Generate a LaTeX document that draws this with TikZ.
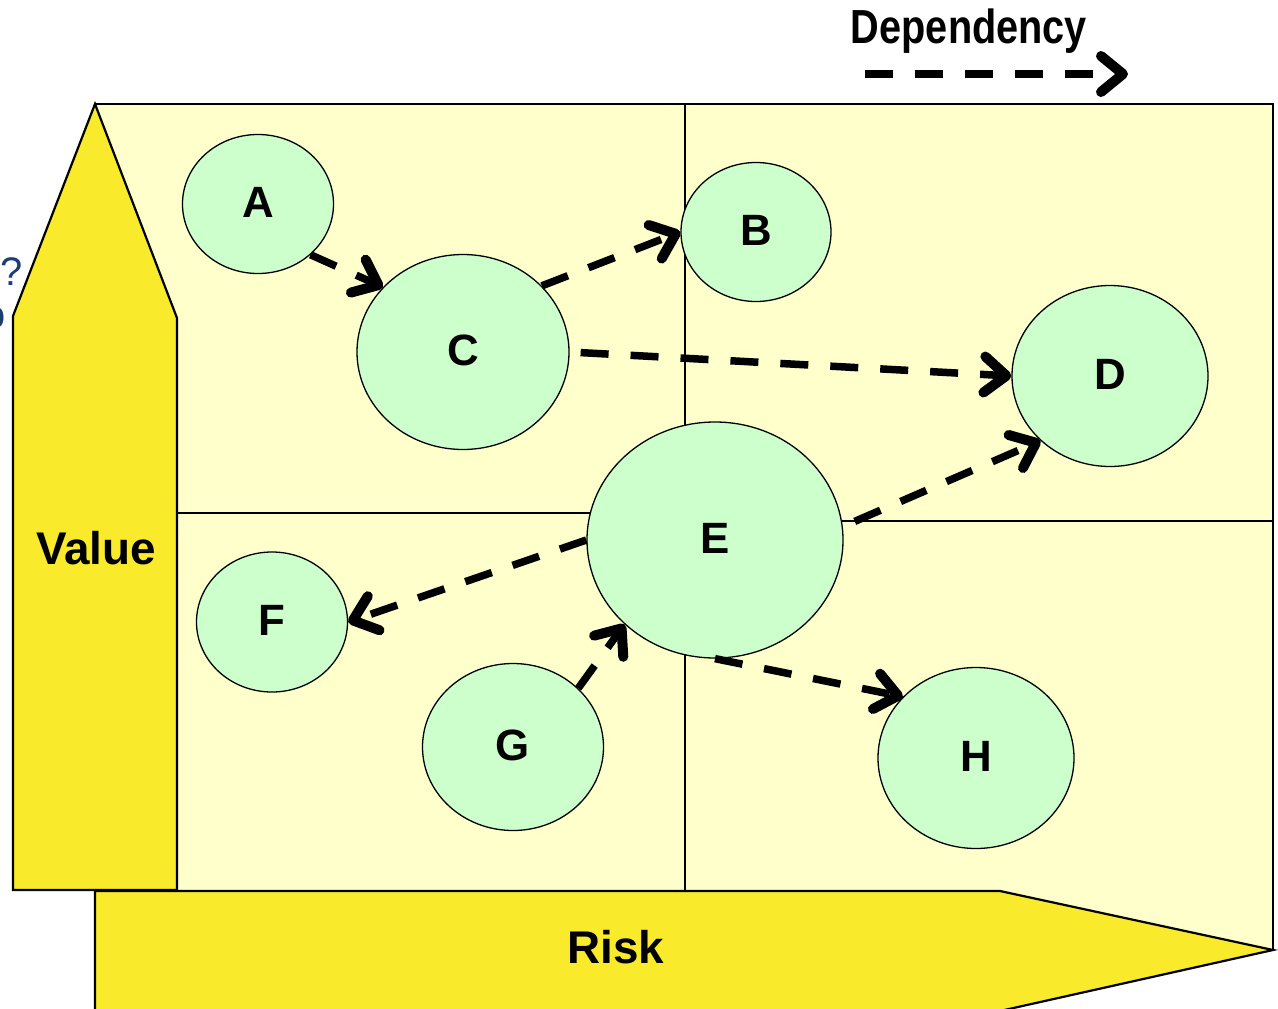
\documentclass[tikz,border=0pt]{standalone}
\usepackage{fontspec}
\setmainfont{Liberation Sans}
\usetikzlibrary{shapes.geometric,arrows.meta}
\definecolor{paleyellow}{HTML}{FFFFCC}
\definecolor{axisyellow}{HTML}{F9EB2B}
\definecolor{bubble}{HTML}{CCFFCC}
\definecolor{navy}{HTML}{1B3F73}
\tikzset{
  bubblenode/.style={ellipse, draw=black, line width=1.3bp, fill=bubble, inner sep=0pt,
    text height=32bp, text depth=5bp,
    font=\fontsize{44}{50}\selectfont\bfseries},
  axis/.style={fill=axisyellow, draw=black, line width=2.2bp, line join=miter},
  grid/.style={draw=black, line width=1.3bp},
  dep/.style={line width=7.5bp, dash pattern=on 28bp off 22bp,
    -{Straight Barb[length=22bp,width=36bp,line width=10bp,round]}},
  axislabel/.style={font=\fontsize{46}{52}\selectfont\bfseries, inner sep=0pt}
}
\begin{document}
\begin{tikzpicture}[x=1bp,y=-1bp]
  \clip (0,0) rectangle (1278,1009);
  \fill[white] (0,0) rectangle (1278,1009);

  % quadrant field
  \path[fill=paleyellow, grid] (95,104) rectangle (1273,950);
  \coordinate (vtop) at (685,104);
  \coordinate (vbot) at (685,890);
  \draw[grid] (vtop) -- (vbot);
  \coordinate (hl1) at (177,513);
  \coordinate (hl2) at (685,513);
  \coordinate (hr1) at (685,521);
  \coordinate (hr2) at (1273,521);
  \draw[grid] (hl1) -- (hl2);
  \draw[grid] (hr1) -- (hr2);

  % side text running off the left edge
  \node[anchor=east, text=navy, font=\fontsize{40}{46}\selectfont, inner sep=0pt] (q1) at (23,272) {t?};
  \node[anchor=east, text=navy, font=\fontsize{40}{46}\selectfont, inner sep=0pt] (q2) at (6,318) {o};

  % value axis arrow
  \path[axis] (13,890) -- (13,316) -- (95,104) -- (177,318) -- (177,890) -- cycle;
  \node[axislabel] (value) at (96,548) {Value};

  % risk axis arrow
  \path[axis] (95,1030) -- (95,891) -- (1000,891) -- (1273,950) -- (1000,1011) -- (1000,1030) -- cycle;
  \node[axislabel] (risk) at (616,947) {Risk};

  % legend
  \node[font=\fontsize{48}{54}\selectfont\bfseries, xscale=0.83, inner sep=0pt] (legend) at (969,31) {Dependency};
  \coordinate (lg1) at (865,74);
  \coordinate (lg2) at (1128,74);
  \draw[dep] (lg1) -- (lg2);

  % bubbles
  \node[bubblenode, minimum width=151bp, minimum height=139bp] (A) at (258,204) {A};
  \node[bubblenode, minimum width=150bp, minimum height=139bp] (B) at (756,232) {B};
  \node[bubblenode, minimum width=212bp, minimum height=195bp] (C) at (463,352) {C};
  \node[bubblenode, minimum width=196bp, minimum height=181bp] (D) at (1110,376) {D};
  \node[bubblenode, minimum width=256bp, minimum height=236bp] (E) at (715,540) {E};
  \node[bubblenode, minimum width=151bp, minimum height=140bp] (F) at (272,622) {F};
  \node[bubblenode, minimum width=181bp, minimum height=167bp] (G) at (513,747) {G};
  \node[bubblenode, minimum width=196bp, minimum height=181bp] (H) at (976,758) {H};

  % dependencies
  \draw[dep] (A.-44) -- (C.141);
  \draw[dep] (C.40) -- (B.west);
  \draw[dep, shorten <=11bp] (C.east) -- (D.west);
  \draw[dep, shorten <=13bp] (E.6) -- (D.-137);
  \draw[dep] (E.west) -- (F.east);
  \draw[dep] (G.42) -- (E.-137);
  \draw[dep] (E.south) -- (H.140);
\end{tikzpicture}
\end{document}
